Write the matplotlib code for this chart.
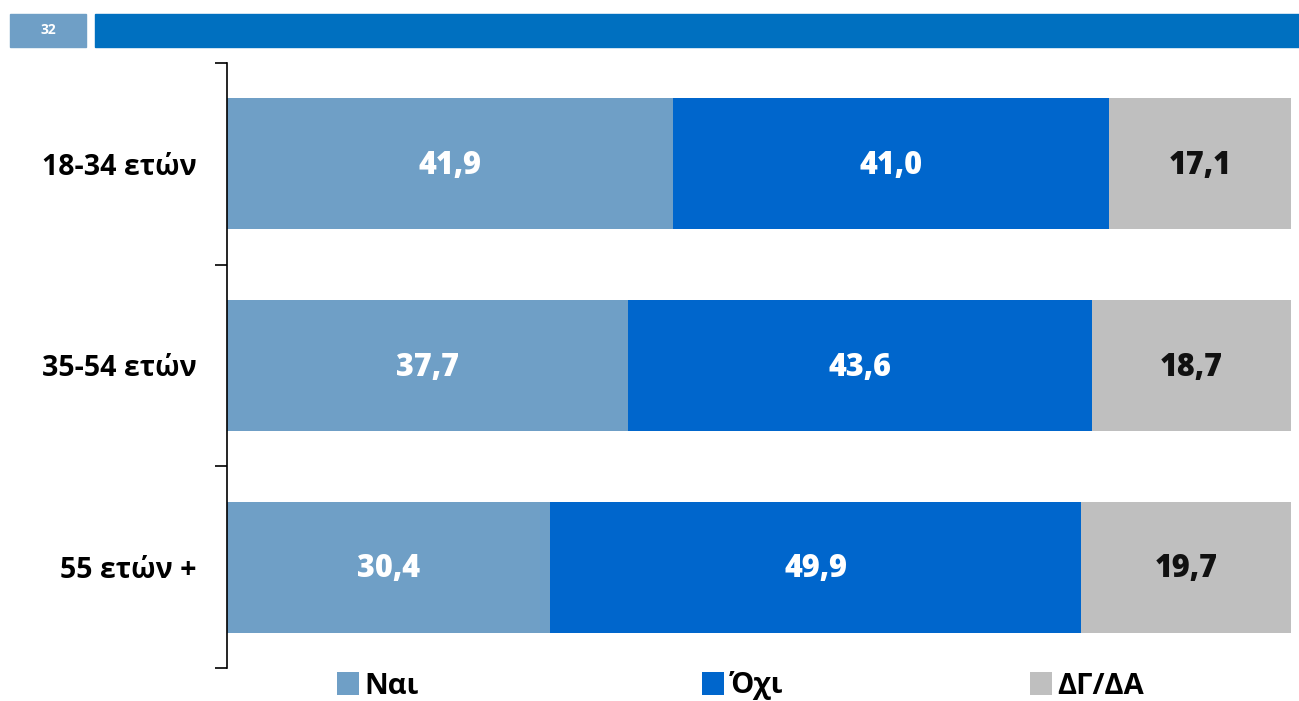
import numpy as np
import matplotlib.pyplot as plt
from matplotlib.patches import Rectangle

plt.rcParams['font.family'] = ['Open Sans', 'DejaVu Sans']

groups = ["18-34 ετών", "35-54 ετών", "55 ετών +"]
nai = [41.9, 37.7, 30.4]
oxi = [41.0, 43.6, 49.9]
dgda = [17.1, 18.7, 19.7]
series_names = ["Ναι", "Όχι", "ΔΓ/ΔΑ"]
page_no = "32"

colors = ["#6f9fc6", "#0066cc", "#bfbfbf"]
text_colors = ["white", "white", "#111111"]

fig = plt.figure(figsize=(12.99, 7.01), dpi=100)
ax = fig.add_axes([227 / 1299, 33 / 701, 1064 / 1299, 605 / 701])

# header strip
fig.patches.append(Rectangle((10 / 1299, 654 / 701), 76 / 1299, 33 / 701,
                             transform=fig.transFigure, color="#6f9fc6"))
fig.patches.append(Rectangle((95 / 1299, 654 / 701), 1204 / 1299, 33 / 701,
                             transform=fig.transFigure, color="#0070c0"))
fig.text(48 / 1299, 670.5 / 701, page_no, color="white", fontsize=10,
         fontweight="bold", ha="center", va="center")

y = np.arange(len(groups))
left = np.zeros(len(groups))
handles = []
for vals, col, tcol, name in zip([nai, oxi, dgda], colors, text_colors, series_names):
    bars = ax.barh(y, vals, left=left, height=0.65, color=col, label=name)
    handles.append(bars)
    for yi, v, l in zip(y, vals, left):
        ax.text(l + v / 2, yi + 0.01, f"{v:.1f}".replace(".", ","), color=tcol,
                fontsize=22, fontweight="heavy", ha="center", va="center")
    left = left + np.array(vals)

ax.set_xlim(0, 100)
ax.set_ylim(2.5, -0.5)
ax.set_yticks(y)
ax.set_yticklabels(groups, fontsize=20.5, fontweight="bold")
ax.tick_params(axis="y", which="major", length=0, pad=22)
ax.set_yticks(np.arange(-0.5, 3, 1), minor=True)
ax.tick_params(axis="y", which="minor", length=9, width=1.2, color="black")
ax.set_xticks([])
for s in ["top", "right", "bottom"]:
    ax.spines[s].set_visible(False)
ax.spines["left"].set_linewidth(1.2)

# legend entries sit at uneven positions, like the original
for h, name, x0 in zip(handles, series_names, [337, 702, 1030]):
    fig.legend(handles=[h], labels=[name], loc="center left",
               bbox_to_anchor=(x0 / 1299, 15 / 701), frameon=False,
               borderpad=0, borderaxespad=0,
               prop={"size": 21, "weight": "bold"}, handlelength=0.75,
               handleheight=0.8, handletextpad=0.2)

fig.savefig("out.png", dpi=100)
